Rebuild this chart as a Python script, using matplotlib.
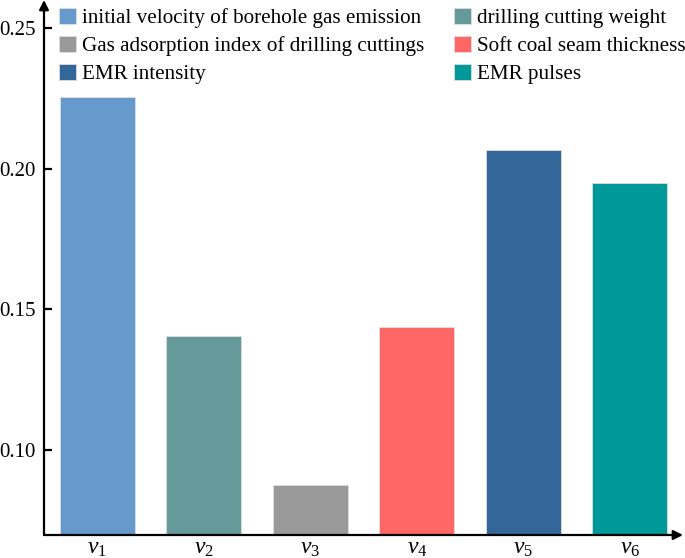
import matplotlib
matplotlib.use('Agg')
import matplotlib.pyplot as plt
from matplotlib.patches import Patch

plt.rcParams['font.family'] = ['Liberation Serif', 'DejaVu Serif']
plt.rcParams['mathtext.fontset'] = 'custom'
plt.rcParams['mathtext.it'] = 'Liberation Serif:italic'
plt.rcParams['mathtext.rm'] = 'Liberation Serif'

# data
labels = ['$v_1$', '$v_2$', '$v_3$', '$v_4$', '$v_5$', '$v_6$']
values = [0.2254, 0.1404, 0.0874, 0.1439, 0.2066, 0.1948]
names = ['initial velocity of borehole gas emission', 'drilling cutting weight',
         'Gas adsorption index of drilling cuttings', 'Soft coal seam thickness',
         'EMR intensity', 'EMR pulses']
colors = ['#6699CC', '#669999', '#999999', '#FF6666', '#336699', '#009999']
yticks = [0.10, 0.15, 0.20, 0.25]

fig = plt.figure(figsize=(6.85, 5.58), dpi=100)
ax = fig.add_axes([44/685, 23/558, 639/685, 535/558])

x = range(len(values))
ax.bar(x, values, width=0.7, color=colors, edgecolor='#dddddd', linewidth=0.6)
ax.set_xlim(-0.5, 5.5)
ax.set_ylim(0.0698, 0.26)

for s in ['top', 'right', 'left', 'bottom']:
    ax.spines[s].set_visible(False)
# axis lines with arrows
ax.annotate('', xy=(0, 1.0), xytext=(0, 0), xycoords='axes fraction',
            arrowprops=dict(arrowstyle='-|>', color='black', lw=1.6, mutation_scale=14,
                            shrinkA=0, shrinkB=0))
ax.annotate('', xy=(1.0, 0), xytext=(0, 0), xycoords='axes fraction',
            arrowprops=dict(arrowstyle='-|>', color='black', lw=1.6, mutation_scale=14,
                            shrinkA=0, shrinkB=0))

ax.set_yticks(yticks)
ax.set_yticklabels(['%.2f' % t for t in yticks])
ax.tick_params(axis='y', direction='in', length=6, width=1.6, labelsize=15, pad=6)
ax.set_xticks(list(x))
ax.set_xticklabels(labels)
ax.tick_params(axis='x', length=0, labelsize=17, pad=2)

# legend filled row by row (matplotlib fills columns first)
order = [0, 2, 4, 1, 3, 5]
handles = [Patch(facecolor=colors[i], edgecolor='#dddddd', linewidth=0.6) for i in order]
fig.legend(handles, [names[i] for i in order], ncol=2, loc='upper left',
           bbox_to_anchor=(59/685, 1 - 8/558), frameon=False, fontsize=15.2,
           handlelength=0.8, handleheight=0.8, handletextpad=0.3,
           columnspacing=1.4, labelspacing=0.35, borderpad=0, borderaxespad=0)

fig.savefig('out.png', dpi=100)
